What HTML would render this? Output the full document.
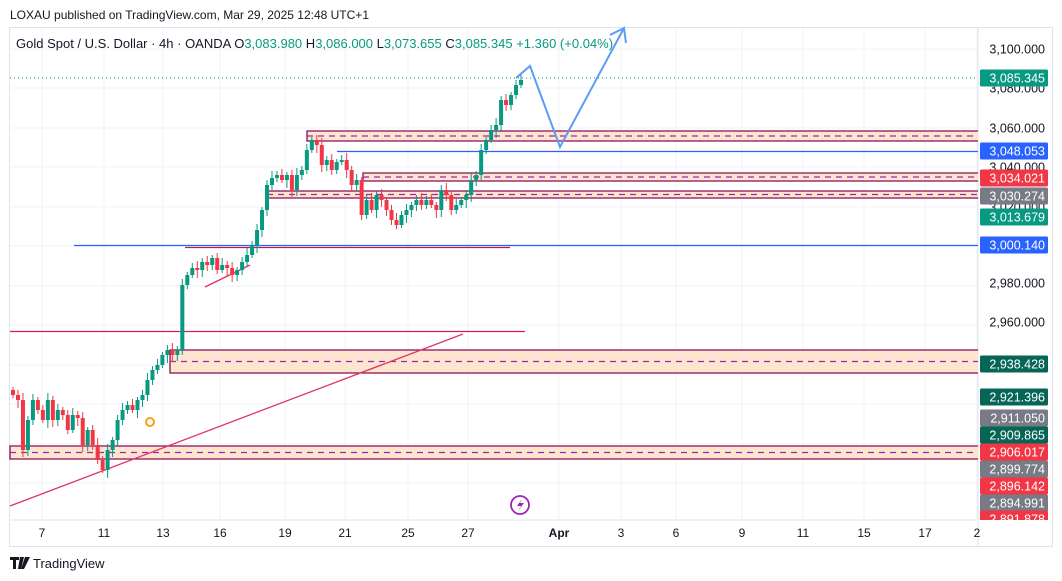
<!DOCTYPE html>
<html><head><meta charset="utf-8"><style>
body{margin:0;background:#fff;font-family:"Liberation Sans",sans-serif;}
svg{display:block}
</style></head><body>
<svg width="1062" height="581" viewBox="0 0 1062 581" xmlns="http://www.w3.org/2000/svg" font-family="Liberation Sans, sans-serif">
<rect width="1062" height="581" fill="#fff"/>
<text x="10" y="19" font-size="12" fill="#131722">LOXAU published on TradingView.com, Mar 29, 2025 12:48 UTC+1</text>
<rect x="9.5" y="27.5" width="1043" height="519" fill="none" stroke="#e0e3eb"/>
<g id="grid" stroke="#f0f3fa" stroke-width="1"></g>
<g id="draw"></g>
<g id="candles"></g>
<g id="over"></g>
<text x="16" y="48" font-size="13" fill="#131722">Gold Spot / U.S. Dollar · 4h · OANDA <tspan>O</tspan><tspan fill="#089981">3,083.980</tspan> <tspan>H</tspan><tspan fill="#089981">3,086.000</tspan> <tspan>L</tspan><tspan fill="#089981">3,073.655</tspan> <tspan>C</tspan><tspan fill="#089981">3,085.345 +1.360 (+0.04%)</tspan></text>
<g id="labels" font-size="12.5"></g>
<g id="xaxis" font-size="12" fill="#131722" text-anchor="middle"></g>
<g transform="translate(10,557)"><path d="M0 0h9v3h-3v9h-3v-9h-3z M10 0h4l-3 12h-3z M15 0h5l-6 12h-3z" fill="#131722"/></g>
<text x="33" y="568" font-size="13" fill="#131722">TradingView</text>
</svg>
<script>
const NS="http://www.w3.org/2000/svg";
function el(g,t,a,txt){const e=document.createElementNS(NS,t);for(const k in a)e.setAttribute(k,a[k]);if(txt!==undefined)e.textContent=txt;document.getElementById(g).appendChild(e);return e;}
[49,88,128,167,207,246,286,325,365,404,444,483].forEach(y=>el("grid","line",{x1:10,x2:978,y1:y,y2:y}));
const xs=[[42,"7"],[104,"11"],[163,"13"],[220,"16"],[285,"19"],[345,"21"],[408,"25"],[468,"27"],[559,"Apr"],[621,"3"],[676,"6"],[742,"9"],[803,"11"],[864,"15"],[925,"17"],[977,"2"]];
xs.forEach(([x,t])=>{el("grid","line",{x1:x,x2:x,y1:28,y2:520});const e=el("xaxis","text",{x:x,y:537},t);if(t=="Apr")e.setAttribute("font-weight","bold");});
el("grid","line",{x1:10,x2:978,y1:520,y2:520,stroke:"#e0e3eb"});
el("grid","line",{x1:978,x2:978,y1:28,y2:546,stroke:"#e0e3eb"});
function zone(x,y1,y2){el("draw","rect",{x:x,y:y1,width:978-x,height:y2-y1,fill:"#fde5d0"});
el("draw","path",{d:`M978 ${y1}H${x}V${y2}H978`,fill:"none",stroke:"#880e4f","stroke-width":1.3});
el("draw","line",{x1:x,x2:978,y1:(y1+y2)/2,y2:(y1+y2)/2,stroke:"#9c27b0","stroke-dasharray":"6 5","stroke-width":1.2});}
zone(307,131,141);zone(363,173,181);zone(267,191,198);zone(170,350,373);zone(10,446,459);
el("draw","line",{x1:10,x2:978,y1:78,y2:78,stroke:"#089981","stroke-dasharray":"1 3"});
el("draw","line",{x1:337,x2:978,y1:151.5,y2:151.5,stroke:"#2962ff","stroke-width":1.3});
el("draw","line",{x1:74,x2:978,y1:245.5,y2:245.5,stroke:"#2962ff","stroke-width":1.3});
el("draw","line",{x1:185,x2:510,y1:247.5,y2:247.5,stroke:"#b2224f","stroke-width":1.3});
el("draw","line",{x1:10,x2:525,y1:331.5,y2:331.5,stroke:"#d81b60","stroke-width":1.3});
el("draw","line",{x1:10,x2:463,y1:506,y2:334,stroke:"#e0336b","stroke-width":1.3});
el("draw","line",{x1:205,x2:250,y1:287,y2:265,stroke:"#e0336b","stroke-width":1.5});
const cl=[395,400,450,420,400,410,420,400,420,410,415,430,415,418,445,430,445,460,470,450,440,420,410,405,410,400,395,380,370,365,355,350,355,350,285,275,268,270,262,265,258,270,265,268,275,270,262,255,245,230,210,185,178,175,180,175,190,175,170,150,140,145,165,160,170,162,160,170,185,180,215,200,210,195,200,210,220,225,215,210,205,200,205,200,205,210,190,195,210,205,200,195,180,175,150,140,130,125,100,105,95,85,80];
let prev=390;const step=(521-13)/(cl.length-1);
cl.forEach((c,i)=>{const x=13+i*step;const o=prev;const up=c<o;const top=Math.min(o,c),bot=Math.max(o,c);
const wt=top-3-((i*7)%5),wb=bot+3+((i*11)%6);const col=up?"#089981":"#f23645";
el("candles","line",{x1:x,x2:x,y1:wt,y2:wb,stroke:col});
el("candles","rect",{x:x-2,y:top,width:4,height:Math.max(1,bot-top),fill:col});prev=c;});
el("over","polyline",{points:"516,78 530,66 560,147 624,28",fill:"none",stroke:"#5b9cf6","stroke-width":2});
el("over","polyline",{points:"610,35 624,28 626,43",fill:"none",stroke:"#5b9cf6","stroke-width":2});
el("over","circle",{cx:150,cy:422,r:4,fill:"none",stroke:"#f7a21b","stroke-width":2});
el("over","circle",{cx:520,cy:505,r:9,fill:"none",stroke:"#9c27b0","stroke-width":1.8});
el("over","path",{d:"M522 499 L517 506 L521 506 L518 511 L524 503 L520 503 Z",fill:"#9c27b0"});
const L=[[49,"3,100.000"],[88,"3,080.000"],[128,"3,060.000"],[167,"3,040.000"],[207,"3,020.000"],[283,"2,980.000"],[322,"2,960.000"],
[78,"3,085.345","#089981"],[151,"3,048.053","#2962ff"],[178,"3,034.021","#f23645"],[196,"3,030.274","#787b86"],[217,"3,013.679","#089981"],[245,"3,000.140","#2962ff"],
[364,"2,938.428","#056656"],[397,"2,921.396","#056656"],[418,"2,911.050","#787b86"],[435,"2,909.865","#056656"],[452,"2,906.017","#f23645"],[469,"2,899.774","#787b86"],[486,"2,896.142","#f23645"],[503,"2,894.991","#787b86"],[519,"2,891.878","#f23645"]];
L.forEach(([y,t,bg])=>{if(bg){el("labels","rect",{x:980,y:y-8.5,width:68,height:17,fill:bg,rx:1.5});el("labels","text",{x:1045,y:y+4.5,fill:"#fff","text-anchor":"end"},t);}
else el("labels","text",{x:1045,y:y+4.5,fill:"#131722","text-anchor":"end"},t);});
el("labels","rect",{x:979,y:520,width:72,height:26,fill:"#fff"});
</script>
</body></html>
